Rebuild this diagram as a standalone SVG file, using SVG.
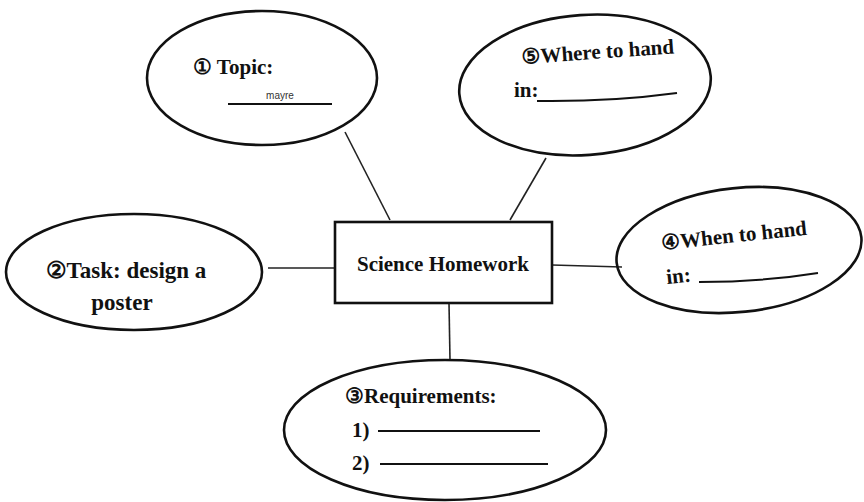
<svg xmlns="http://www.w3.org/2000/svg" width="864" height="502" viewBox="0 0 864 502">
<style>
.sh{fill:none;stroke:#111;stroke-width:2.6}
.ln{fill:none;stroke:#222;stroke-width:1.6}
.ul{fill:none;stroke:#111;stroke-width:2}
.t{font-family:"Liberation Serif","DejaVu Serif",serif;font-weight:bold;font-size:21px;fill:#111}
</style>
<rect width="864" height="502" fill="#fff"/>
<g id="connectors">
<line class="ln" x1="345" y1="132" x2="390" y2="220"/>
<line class="ln" x1="546" y1="158" x2="510" y2="220"/>
<line class="ln" x1="268" y1="268" x2="335" y2="268"/>
<line class="ln" x1="552" y1="265" x2="622" y2="267"/>
<line class="ln" x1="449" y1="303" x2="450" y2="360"/>
</g>
<g id="center">
<rect class="sh" x="335" y="222" width="217" height="81"/>
<text class="t" x="443" y="271" text-anchor="middle">Science Homework</text>
</g>
<g id="topic">
<ellipse class="sh" cx="262" cy="78" rx="115" ry="67"/>
<text class="t" x="193" y="74">① Topic:</text>
<text x="280" y="99" text-anchor="middle" style="font-family:'Liberation Sans',sans-serif;font-size:10px;fill:#333">mayre</text>
<line class="ul" x1="228" y1="104" x2="332" y2="104"/>
</g>
<g id="where">
<ellipse class="sh" cx="585" cy="85" rx="126" ry="70" transform="rotate(-4 585 85)"/>
<text class="t" x="522" y="64" transform="rotate(-4 522 64)">⑤Where to hand</text>
<text class="t" x="514" y="97">in:</text>
<path class="ul" d="M537 101 Q610 102 677 93"/>
</g>
<g id="task">
<ellipse class="sh" cx="134" cy="272" rx="128" ry="58"/>
<text class="t" x="126" y="278" text-anchor="middle" style="font-size:23px">②Task: design a</text>
<text class="t" x="122" y="310" text-anchor="middle" style="font-size:23px">poster</text>
</g>
<g id="when">
<ellipse class="sh" cx="739" cy="250" rx="123" ry="62" transform="rotate(-6 739 250)"/>
<text class="t" x="662" y="250" transform="rotate(-6 662 250)">④When to hand</text>
<text class="t" x="667" y="284" transform="rotate(-6 667 284)">in:</text>
<path class="ul" d="M699 282 Q762 282 818 273"/>
</g>
<g id="requirements">
<ellipse class="sh" cx="445" cy="430" rx="161" ry="70"/>
<text class="t" x="345" y="403">③Requirements:</text>
<text class="t" x="352" y="437">1)</text>
<line class="ul" x1="378" y1="431" x2="540" y2="431"/>
<text class="t" x="352" y="470">2)</text>
<line class="ul" x1="380" y1="464" x2="548" y2="464"/>
</g>
</svg>
